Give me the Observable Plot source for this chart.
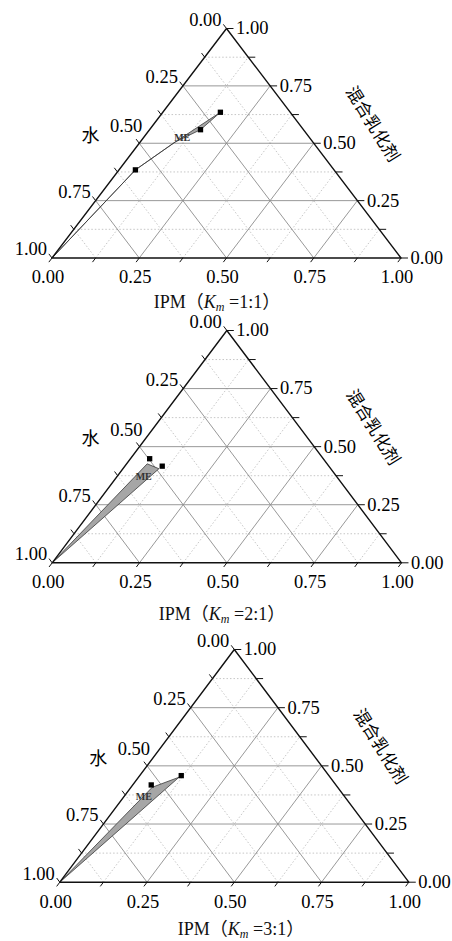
<!DOCTYPE html>
<html><head><meta charset="utf-8">
<script src="https://cdn.jsdelivr.net/npm/d3@7"></script>
<script src="https://cdn.jsdelivr.net/npm/@observablehq/plot@0.6"></script>
<style>
body{margin:0;background:#fff;}
#wrap{position:relative;width:452px;height:941px;background:#fff;}
.panel{position:absolute;left:0;}
.cap{position:absolute;width:240px;text-align:center;font-size:18px;line-height:20px;color:#111;font-family:"Liberation Serif","Noto Sans CJK SC",serif;white-space:nowrap;}
.cap sub{font-size:12px;font-style:italic;vertical-align:-3px;line-height:0;}
</style></head><body><div id="wrap"></div>
<script>
// ---- tick values & labels ----
const majorTicks = [0, 0.25, 0.5, 0.75, 1];
const tickLabels = ["0.00", "0.25", "0.50", "0.75", "1.00"];
const gridMajor = [0.25, 0.5, 0.75];
const gridMinor = [0.125, 0.375, 0.625, 0.875];
const allTicks = [0, 0.125, 0.25, 0.375, 0.5, 0.625, 0.75, 0.875, 1];

// ---- axis names ----
const axisBottom = "IPM";
const axisLeft = "水";
const axisRight = "混合乳化剂";
const kmRatios = ["1:1", "2:1", "3:1"];
const regionLabel = "ME";

// ---- data: compositions (mass fractions: IPM, mixed emulsifier, water) ----
// Km = 1:1  ME region boundary
const km11Boundary = [
  {ipm: 0.000, emu: 0.000, water: 1.000},
  {ipm: 0.047, emu: 0.384, water: 0.569},
  {ipm: 0.100, emu: 0.505, water: 0.395},
  {ipm: 0.165, emu: 0.635, water: 0.200},
  {ipm: 0.146, emu: 0.559, water: 0.295},
  {ipm: 0.100, emu: 0.505, water: 0.395},
  {ipm: 0.047, emu: 0.384, water: 0.569},
  {ipm: 0.000, emu: 0.000, water: 1.000}
];
const km11Points = [
  {ipm: 0.047, emu: 0.384, water: 0.569},
  {ipm: 0.146, emu: 0.559, water: 0.295},
  {ipm: 0.165, emu: 0.635, water: 0.200}
];
const km11Label = {ipm: 0.112, emu: 0.522};

// Km = 2:1
const km21Boundary = [
  {ipm: 0.000, emu: 0.000, water: 1.000},
  {ipm: 0.059, emu: 0.426, water: 0.515},
  {ipm: 0.103, emu: 0.405, water: 0.492},
  {ipm: 0.000, emu: 0.000, water: 1.000}
];
const km21Points = [
  {ipm: 0.055, emu: 0.448, water: 0.497},
  {ipm: 0.107, emu: 0.416, water: 0.477}
];
const km21Label = {ipm: 0.076, emu: 0.372};

// Km = 3:1
const km31Boundary = [
  {ipm: 0.000, emu: 0.000, water: 1.000},
  {ipm: 0.061, emu: 0.408, water: 0.531},
  {ipm: 0.116, emu: 0.451, water: 0.434},
  {ipm: 0.000, emu: 0.000, water: 1.000}
];
const km31Points = [
  {ipm: 0.053, emu: 0.418, water: 0.529},
  {ipm: 0.119, emu: 0.458, water: 0.423}
];
const km31Label = {ipm: 0.057, emu: 0.368};

// ---- ternary -> cartesian (IPM to the right, emulsifier up, water at lower-left) ----
const tx = d => d.ipm + d.emu / 2;
const ty = d => d.emu;

const serif = "'Liberation Serif','Times New Roman','Noto Sans CJK SC',serif";

function gridLines(ks) {
  const out = [];
  for (const k of ks) {
    out.push({x1: k / 2, y1: k, x2: 1 - k / 2, y2: k});               // constant emulsifier
    out.push({x1: k, y1: 0, x2: k + (1 - k) / 2, y2: 1 - k});         // constant IPM
    out.push({x1: 1 - k, y1: 0, x2: (1 - k) / 2, y2: 1 - k});         // constant water
  }
  return out;
}

function ternary(boundary, points, label, geom) {
  const t = 0.018;
  const ticks = [];
  for (const k of allTicks) {
    ticks.push({x1: k, y1: 0, x2: k - 0.5 * t, y2: -t});                         // bottom (IPM)
    ticks.push({x1: (1 - k) / 2, y1: 1 - k, x2: (1 - k) / 2 - 0.5 * t, y2: 1 - k + t}); // left (water)
    ticks.push({x1: 1 - k / 2, y1: k, x2: 1 - k / 2 + 0.02, y2: k});             // right (emulsifier)
  }
  const lab = majorTicks.map((k, i) => ({k, text: tickLabels[i]}));
  const leftMain = lab.filter(d => d.k !== 0.5);
  const leftMid = lab.filter(d => d.k === 0.5);
  const frame = [{x: 0, y: 0}, {x: 1, y: 0}, {x: 0.5, y: 1}, {x: 0, y: 0}];
  return Plot.plot({
    width: 452, height: geom.h,
    marginLeft: geom.ml, marginRight: geom.mr, marginTop: geom.mt, marginBottom: geom.mb,
    x: {domain: [0, 1], axis: null},
    y: {domain: [0, 1], axis: null},
    style: {fontFamily: serif, background: "transparent", overflow: "visible"},
    marks: [
      Plot.link(gridLines(gridMinor), {x1: "x1", y1: "y1", x2: "x2", y2: "y2", stroke: "#b8b8b8", strokeWidth: 0.8, strokeDasharray: "1.5,2"}),
      Plot.link(gridLines(gridMajor), {x1: "x1", y1: "y1", x2: "x2", y2: "y2", stroke: "#8c8c8c", strokeWidth: 0.9}),
      Plot.line(boundary, {x: tx, y: ty, fill: "#a6a6a6", stroke: "#3a3a3a", strokeWidth: 0.8, curve: "linear-closed"}),
      Plot.line(frame, {x: "x", y: "y", stroke: "#111", strokeWidth: 1.4}),
      Plot.link(ticks, {x1: "x1", y1: "y1", x2: "x2", y2: "y2", stroke: "#111", strokeWidth: 1}),
      Plot.dot(points, {x: tx, y: ty, symbol: "square", r: 3, fill: "#000", stroke: "none"}),
      Plot.text([label], {x: tx, y: ty, text: () => regionLabel, fontSize: 10, fontWeight: "bold", fill: "#333"}),
      // bottom labels
      Plot.text(lab, {x: d => d.k, y: 0, text: "text", dy: 19.5, dx: -4, fontSize: 18.5, fill: "#000"}),
      // left labels (water)
      Plot.text(leftMain, {x: d => (1 - d.k) / 2, y: d => 1 - d.k, text: "text", textAnchor: "end", dx: -5, dy: -8.5, fontSize: 18.5, fill: "#000"}),
      Plot.text(leftMid, {x: d => (1 - d.k) / 2, y: d => 1 - d.k, text: "text", textAnchor: "end", dx: 3, dy: -17, fontSize: 18.5, fill: "#000"}),
      // right labels (emulsifier)
      Plot.text(lab, {x: d => 1 - d.k / 2, y: d => d.k, text: "text", textAnchor: "start", dx: 9.5, fontSize: 18.5, fill: "#000"}),
      // axis names
      Plot.text([axisLeft], {x: () => 0.11, y: () => 0.53, text: d => d, fontSize: 18, fill: "#000", fontFamily: "'Noto Sans CJK SC',sans-serif"}),
      Plot.text([axisRight], {x: () => 0.918, y: () => 0.583, text: d => d, rotate: 58, fontSize: 17, fill: "#000", fontFamily: "'Noto Sans CJK SC',sans-serif"})
    ]
  });
}

const wrap = document.getElementById("wrap");
const panels = [
  {top: 0,   geom: {h: 290, ml: 51.5, mr: 51.5, mt: 28, mb: 32.5}, b: km11Boundary, p: km11Points, l: km11Label, cap: {cx: 217, cy: 301.7}},
  {top: 310, geom: {h: 285, ml: 51.7, mr: 51,   mt: 20, mb: 32.7}, b: km21Boundary, p: km21Points, l: km21Label, cap: {cx: 222, cy: 614}},
  {top: 622, geom: {h: 290, ml: 59.3, mr: 43.7, mt: 27, mb: 30.3}, b: km31Boundary, p: km31Points, l: km31Label, cap: {cx: 241, cy: 928.5}}
];
panels.forEach((pn, i) => {
  const div = document.createElement("div");
  div.className = "panel";
  div.style.top = pn.top + "px";
  div.appendChild(ternary(pn.b, pn.p, pn.l, pn.geom));
  wrap.appendChild(div);
  const cap = document.createElement("div");
  cap.className = "cap";
  cap.style.left = (pn.cap.cx - 120) + "px";
  cap.style.top = (pn.cap.cy - 10) + "px";
  cap.innerHTML = axisBottom + "（<i>K</i><sub>m</sub> =" + kmRatios[i] + "）";
  wrap.appendChild(cap);
});
</script>
</body></html>
